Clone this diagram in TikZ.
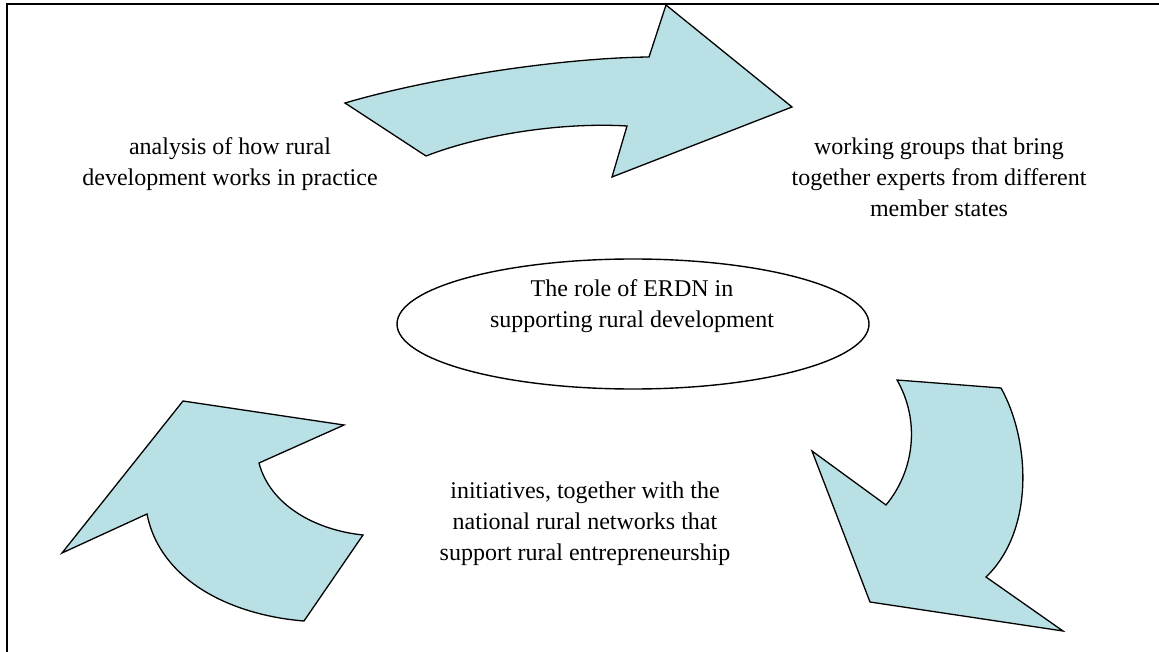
\documentclass[tikz,border=0pt]{standalone}
\usepackage{fontspec}
\setmainfont{Liberation Serif}
\usetikzlibrary{shapes.geometric}
\definecolor{arrowfill}{RGB}{185,224,228}
\newcommand\mltxt[1]{\begin{tabular}[t]{@{}c@{}}#1\end{tabular}}
\tikzset{
  bigarrow/.style={draw=black, line width=1.3pt, fill=arrowfill, line join=miter},
  label/.style={inner sep=0pt, anchor=base, font=\fontsize{24}{31}\selectfont},
  frameline/.style={draw=black, line width=1.4pt}
}
\begin{document}
\begin{tikzpicture}[x=1pt,y=-1pt]
\useasboundingbox (0,0) rectangle (1159,652);
\fill[white] (0,0) rectangle (1159,652);
% frame
\coordinate (fbl) at (7,653);
\coordinate (ftl) at (7,4);
\coordinate (ftr) at (1160,4);
\draw[frameline] (fbl) -- (ftl) -- (ftr);

% top arrow
\path[bigarrow] (345,103) .. controls (430,78) and (560,58) .. (649,57) -- (666,5) -- (792,107) -- (612,177) -- (627,126) .. controls (560,122) and (480,135) .. (426,156) -- cycle;

% right arrow
\path[bigarrow] (897,380) -- (1001,388) .. controls (1030,440) and (1035,530) .. (986,577) -- (1063,631) -- (870,602) -- (812,451) -- (886,505) .. controls (915,470) and (920,420) .. (897,380) -- cycle;

% left arrow
\path[bigarrow] (183,401) -- (344,425) -- (259,463) .. controls (270,505) and (315,530) .. (363,535) -- (304,621) .. controls (230,615) and (160,580) .. (147,514) -- (62,553) -- cycle;

% ellipse
\node[ellipse, draw=black, line width=1.4pt, minimum width=472pt, minimum height=130pt, inner sep=0pt] (ell) at (633,324) {};
\node[label] (elltxt) at (632,297) {\mltxt{The role of ERDN in\\supporting rural development}};

% texts
\node[label] (lefttxt) at (230,155) {\mltxt{analysis of how rural\\development works in practice}};
\node[label] (righttxt) at (939,155) {\mltxt{working groups that bring\\together experts from different\\member states}};
\node[label] (bottomtxt) at (585,498) {\mltxt{initiatives, together with the\\national rural networks that\\support rural entrepreneurship}};
\end{tikzpicture}
\end{document}
